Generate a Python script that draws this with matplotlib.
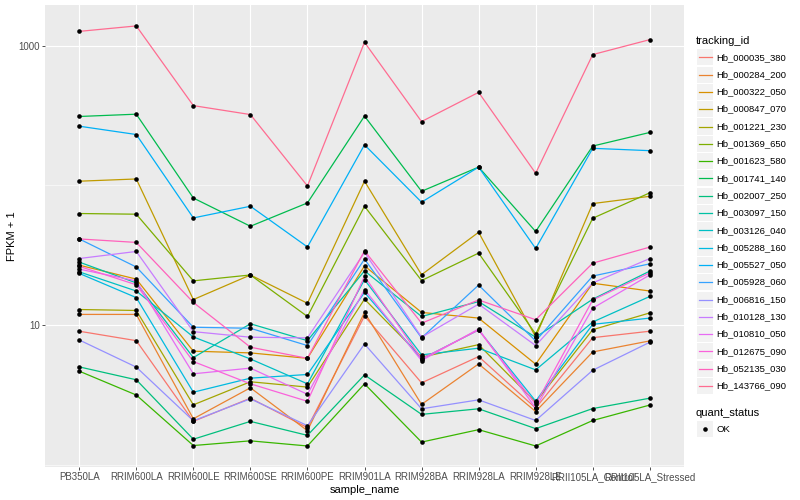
import matplotlib
matplotlib.use("Agg")
import matplotlib.pyplot as plt
from matplotlib.lines import Line2D
from matplotlib.patches import Rectangle
from matplotlib.ticker import FixedLocator, NullFormatter

plt.rcParams['font.family'] = ['Liberation Sans', 'DejaVu Sans']

# Data (FPKM + 1)
samples = ['PB350LA', 'RRIM600LA', 'RRIM600LE', 'RRIM600SE', 'RRIM600PE', 'RRIM901LA',
           'RRIM928BA', 'RRIM928LA', 'RRIM928LE', 'RRII105LA_Control', 'RRII105LA_Stressed']

hb_000035_380 = [9.02, 7.72, 2.04, 2.99, 1.84, 11.6, 3.85, 5.94, 2.54, 8.11, 9.02]
hb_000284_200 = [11.9, 11.9, 2.13, 3.55, 1.75, 12.3, 2.70, 5.26, 2.40, 6.41, 7.69]
hb_000322_050 = [26.8, 21.3, 6.49, 6.31, 5.77, 26.5, 12.3, 11.2, 5.24, 19.9, 17.5]
hb_000847_070 = [107, 111, 15.2, 22.8, 14.3, 107, 22.9, 46.1, 8.21, 74.0, 83.4]
hb_001221_230 = [12.9, 12.7, 2.68, 3.92, 3.59, 15.3, 5.88, 7.23, 2.80, 9.25, 12.2]
hb_001369_650 = [62.8, 62.1, 20.7, 22.8, 11.5, 70.8, 20.8, 32.7, 8.62, 58.1, 88.3]
hb_001623_580 = [4.67, 3.15, 1.37, 1.48, 1.36, 3.79, 1.45, 1.78, 1.36, 2.07, 2.67]
hb_001741_140 = [311, 323, 81.1, 50.9, 74.8, 313, 90.6, 135, 46.7, 191, 239]
hb_002007_250 = [5.01, 4.05, 1.52, 2.04, 1.62, 4.39, 2.29, 2.51, 1.81, 2.52, 2.99]
hb_003097_150 = [28.2, 20.0, 5.84, 10.2, 7.72, 24.4, 11.5, 14.7, 8.17, 15.3, 24.3]
hb_003126_040 = [24.0, 17.5, 8.21, 5.71, 3.79, 21.1, 6.11, 6.82, 4.77, 10.5, 16.0]
hb_005288_160 = [23.4, 15.7, 3.30, 4.16, 4.42, 17.1, 5.71, 9.21, 2.85, 10.1, 11.2]
hb_005527_050 = [265, 231, 58.4, 70.8, 36.2, 195, 75.7, 135, 35.3, 184, 177]
hb_005928_060 = [41.3, 26.0, 9.63, 9.47, 7.12, 29.6, 8.08, 19.3, 7.69, 22.4, 27.4]
hb_006816_150 = [7.81, 4.99, 2.06, 2.96, 1.90, 7.31, 2.51, 2.91, 2.07, 4.74, 7.52]
hb_010128_130 = [29.9, 33.6, 8.96, 8.17, 8.08, 33.1, 8.17, 14.1, 7.12, 20.0, 29.9]
hb_010810_050 = [25.1, 20.7, 4.47, 4.91, 3.19, 17.9, 5.56, 9.36, 2.54, 13.2, 22.8]
hb_012675_090 = [26.3, 19.4, 5.47, 3.79, 2.84, 22.3, 5.71, 9.21, 2.70, 15.1, 23.6]
hb_052135_030 = [41.3, 39.0, 14.5, 6.93, 5.77, 34.0, 10.3, 15.1, 10.9, 27.7, 36.1]
hb_143766_090 = [1265, 1384, 372, 321, 98.9, 1057, 286, 463, 122, 863, 1104]

tracking_ids = ['Hb_000035_380', 'Hb_000284_200', 'Hb_000322_050', 'Hb_000847_070',
                'Hb_001221_230', 'Hb_001369_650', 'Hb_001623_580', 'Hb_001741_140',
                'Hb_002007_250', 'Hb_003097_150', 'Hb_003126_040', 'Hb_005288_160',
                'Hb_005527_050', 'Hb_005928_060', 'Hb_006816_150', 'Hb_010128_130',
                'Hb_010810_050', 'Hb_012675_090', 'Hb_052135_030', 'Hb_143766_090']
series = [hb_000035_380, hb_000284_200, hb_000322_050, hb_000847_070, hb_001221_230,
          hb_001369_650, hb_001623_580, hb_001741_140, hb_002007_250, hb_003097_150,
          hb_003126_040, hb_005288_160, hb_005527_050, hb_005928_060, hb_006816_150,
          hb_010128_130, hb_010810_050, hb_012675_090, hb_052135_030, hb_143766_090]

# ggplot default hue palette for 20 groups
colors = ['#F8766D', '#EA8331', '#D89000', '#C09B00', '#A3A500', '#7CAE00', '#39B600',
          '#00BB4E', '#00BF7D', '#00C1A3', '#00BFC4', '#00BAE0', '#00B0F6', '#35A2FF',
          '#9590FF', '#C77CFF', '#E76BF3', '#FA62DB', '#FF62BC', '#FF6C91']

fig = plt.figure(figsize=(8, 5), dpi=100)
ax = fig.add_axes([45 / 800, 33 / 500, 639 / 800, 462 / 500])
ax.set_facecolor('#EBEBEB')

for vals, col in zip(series, colors):
    ax.plot(samples, vals, color=col, lw=0.9, zorder=2)
for vals in series:
    ax.plot(samples, vals, 'o', color='black', ms=3.3, mew=0, zorder=3)

ax.set_yscale('log')
ax.set_ylim(10 ** -0.017, 10 ** 3.291)
ax.set_xlim(-0.6, len(samples) - 0.4)
ax.yaxis.set_major_locator(FixedLocator([10, 1000]))
ax.set_yticklabels(['10', '1000'])
ax.yaxis.set_minor_locator(FixedLocator([1, 100]))
ax.yaxis.set_minor_formatter(NullFormatter())

ax.grid(True, which='major', color='white', lw=0.8)
ax.grid(True, which='minor', axis='y', color='white', lw=0.4)
ax.set_axisbelow(True)
for s in ax.spines.values():
    s.set_visible(False)
ax.tick_params(which='major', length=2.2, width=0.6, color='#333333',
               labelcolor='#4D4D4D', labelsize=7, pad=1.5)
ax.tick_params(which='minor', length=0)

ax.set_xlabel('sample_name', fontsize=8, labelpad=2)
ax.set_ylabel('FPKM + 1', fontsize=8, labelpad=1)

# legend, drawn ggplot-style at the right
fig.text(696 / 800, 1 - 40.7 / 500, 'tracking_id', fontsize=8, va='center', ha='left')
for i, (name, col) in enumerate(zip(tracking_ids, colors)):
    yc = 57.3 + 17.3 * i
    fig.add_artist(Rectangle((697 / 800, 1 - (yc + 8) / 500), 16 / 800, 16 / 500,
                             transform=fig.transFigure, facecolor='#F2F2F2', edgecolor='none'))
    fig.add_artist(Line2D([698.5 / 800, 711.5 / 800], [1 - yc / 500] * 2,
                          transform=fig.transFigure, color=col, lw=0.9))
    fig.text(716.5 / 800, 1 - yc / 500, name, fontsize=6.8, va='center', ha='left')

fig.text(696 / 800, 1 - 412.7 / 500, 'quant_status', fontsize=8, va='center', ha='left')
fig.add_artist(Rectangle((697 / 800, 1 - (429.3 + 8) / 500), 16 / 800, 16 / 500,
                         transform=fig.transFigure, facecolor='#F2F2F2', edgecolor='none'))
fig.add_artist(Line2D([705 / 800], [1 - 429.3 / 500], transform=fig.transFigure,
                      marker='o', color='black', ms=3.3, mew=0, ls='none'))
fig.text(716.5 / 800, 1 - 429.3 / 500, 'OK', fontsize=6.8, va='center', ha='left')

fig.savefig('out.png', dpi=100)
